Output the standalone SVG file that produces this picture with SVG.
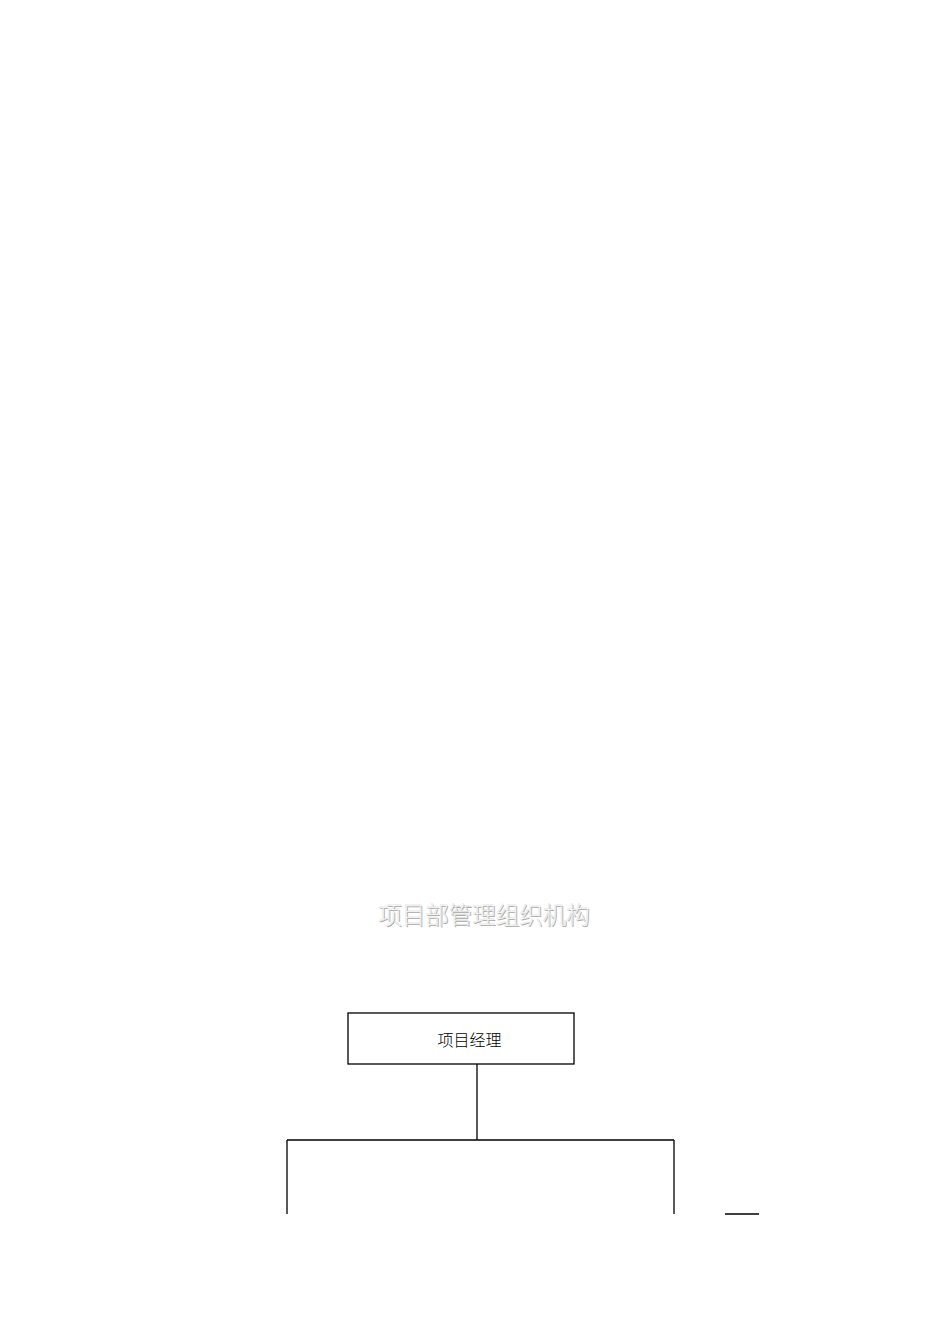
<svg xmlns="http://www.w3.org/2000/svg" width="950" height="1344" viewBox="0 0 950 1344">
<style>
.cjk{font-family:"Liberation Serif","Noto Sans CJK SC",serif}
.ln{stroke:#000;stroke-width:1.3;fill:none}
</style>
<rect width="950" height="1344" fill="#fff"/>
<g id="title">
<text class="cjk" x="485" y="925" font-size="23.5" font-weight="300" text-anchor="middle" fill="#aaa">项目部管理组织机构</text>
<text class="cjk" x="484" y="924" font-size="23.5" font-weight="300" text-anchor="middle" fill="#fff" stroke="#ccc" stroke-width="0.3">项目部管理组织机构</text>
</g>
<g id="pm">
<rect x="348" y="1013" width="226" height="51" fill="#fff" stroke="#000" stroke-width="1.3"/>
<text class="cjk" x="469.5" y="1046" font-size="16" font-weight="300" text-anchor="middle" fill="#000">项目经理</text>
</g>
<g id="connectors">
<path class="ln" d="M477 1064V1140M287 1140H674M287 1140V1214M674 1140V1214"/>
<path class="ln" d="M725 1214H759"/>
</g>
</svg>
